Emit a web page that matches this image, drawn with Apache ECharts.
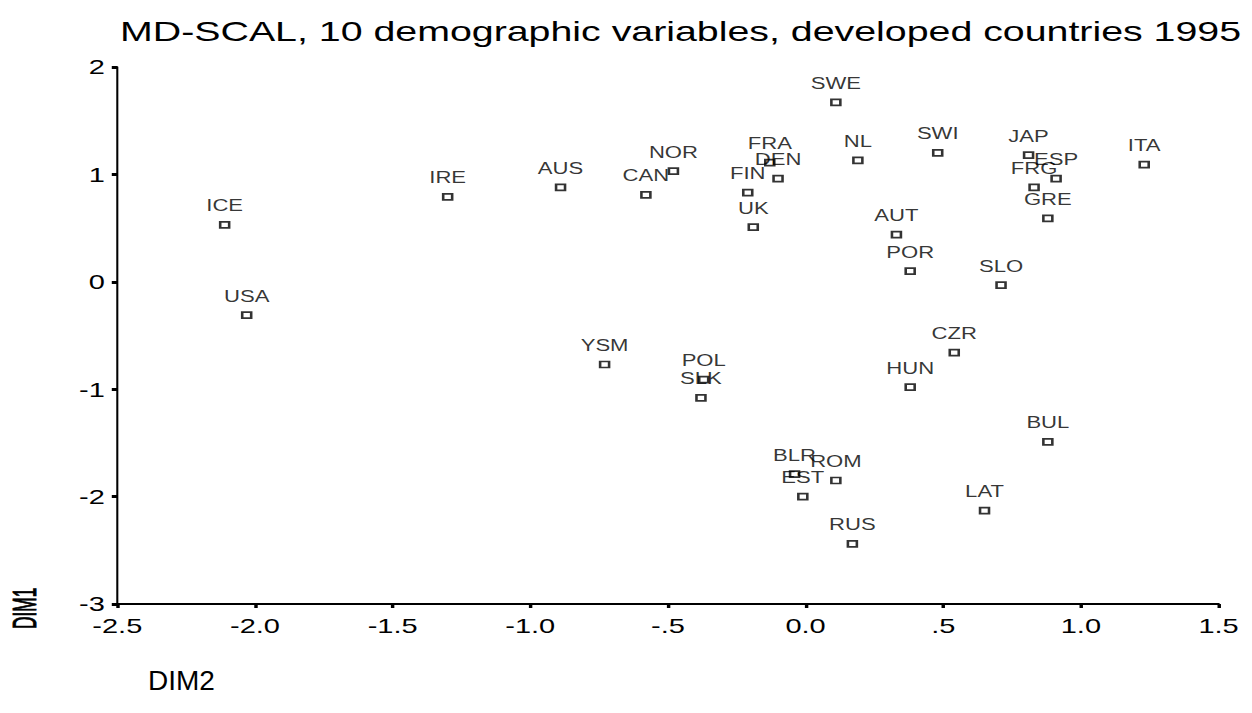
<!DOCTYPE html>
<html>
<head>
<meta charset="utf-8">
<script src="https://cdn.jsdelivr.net/npm/echarts@6/dist/echarts.min.js"></script>
<style>
html,body{margin:0;padding:0;background:#fff;overflow:hidden;}
#wrap{width:1252px;height:713px;overflow:hidden;}
#chart{width:907px;height:713px;transform:scaleX(1.38);transform-origin:0 0;}
</style>
</head>
<body>
<div id="wrap"><div id="chart"></div></div>
<script>
const countries = ["ICE","USA","IRE","AUS","CAN","NOR","FRA","DEN","FIN","UK","SWE","NL","SWI","AUT","POR","SLO","JAP","ESP","FRG","GRE","ITA","CZR","HUN","BUL","LAT","YSM","POL","SLK","BLR","EST","ROM","RUS"];
const dim2 = [-2.11,-2.03,-1.30,-0.89,-0.58,-0.48,-0.13,-0.10,-0.21,-0.19,0.11,0.19,0.48,0.33,0.38,0.71,0.81,0.91,0.83,0.88,1.23,0.54,0.38,0.88,0.65,-0.73,-0.37,-0.38,-0.04,-0.01,0.11,0.17];
const dim1 = [0.53,-0.31,0.79,0.88,0.81,1.03,1.11,0.96,0.83,0.51,1.67,1.13,1.20,0.44,0.10,-0.03,1.18,0.96,0.88,0.59,1.09,-0.66,-0.98,-1.49,-2.13,-0.77,-0.91,-1.08,-1.79,-2.00,-1.85,-2.44];
const xTickLabels = {"-2.5":"-2.5","-2":"-2.0","-1.5":"-1.5","-1":"-1.0","-0.5":"-.5","0":"0.0","0.5":".5","1":"1.0","1.5":"1.5"};
const yTickLabels = {"2":"2","1":"1","0":"0","-1":"-1","-2":"-2","-3":"-3"};
const titleText = "MD-SCAL, 10 demographic variables, developed countries 1995";
const xName = "DIM2";
const yName = "DIM1";

const SX = 1.38;
const data = countries.map((c,i)=>({name:c, value:[dim2[i], dim1[i]]}));
const font = "Arial, 'Liberation Sans', sans-serif";
const chart = echarts.init(document.getElementById('chart'), null, {renderer:'svg', width:907, height:713});
chart.setOption({
  animation:false,
  backgroundColor:'#fff',
  title:{text:titleText, left:82, top:12, textStyle:{fontFamily:font, fontSize:28.5, fontWeight:'normal', color:'#000'}},
  grid:{left:85, right:24, top:67, bottom:109, containLabel:false},
  xAxis:{type:'value', min:-2.5, max:1.5, interval:0.5,
    axisLine:{onZero:false, lineStyle:{color:'#000', width:2}},
    axisTick:{show:true, length:4, lineStyle:{color:'#000', width:2.5}},
    splitLine:{show:false},
    axisLabel:{fontFamily:font, fontSize:21, color:'#000', margin:11, formatter:v=>xTickLabels[String(Math.round(v*10)/10)] ?? String(v)}
  },
  yAxis:{type:'value', min:-3, max:2, interval:1,
    axisLine:{onZero:false, lineStyle:{color:'#000', width:1.5}},
    axisTick:{show:true, length:4, lineStyle:{color:'#000', width:3}},
    splitLine:{show:false},
    axisLabel:{fontFamily:font, fontSize:21, color:'#000', margin:9, formatter:v=>yTickLabels[String(v)] ?? String(v)}
  },
  graphic:[
    {type:'text', x:148/SX, y:666, scaleX:1/SX, style:{text:xName, font:"28px Arial, 'Liberation Sans', sans-serif", fill:'#000'}},
    {type:'text', x:6, y:629, rotation:Math.PI/2, scaleX:0.62, scaleY:0.85, style:{text:yName, font:"28px Arial, 'Liberation Sans', sans-serif", fill:'#000', stroke:'#000', lineWidth:0.8}}
  ],
  series:[{
    type:'scatter',
    data:data,
    symbol:'rect',
    symbolSize:[6.5,6],
    itemStyle:{color:'#fff', borderColor:'#000', borderWidth:1.8},
    label:{show:true, position:'top', distance:7, formatter:p=>p.name, fontFamily:font, fontSize:16, color:'#000'},
    labelLayout:{hideOverlap:false}
  }]
});
</script>
</body>
</html>
